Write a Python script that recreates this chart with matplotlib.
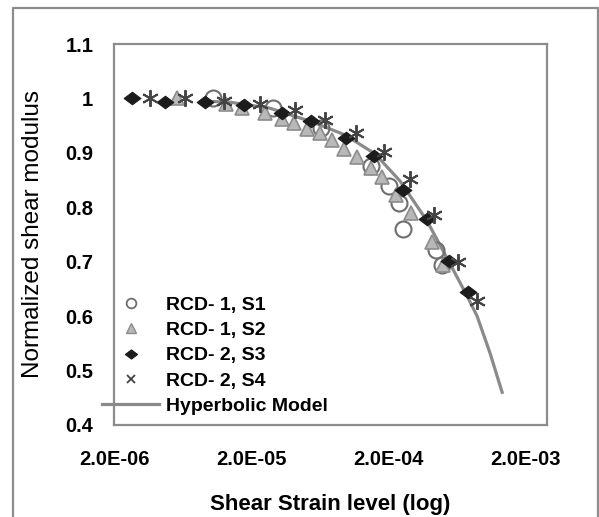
import matplotlib
matplotlib.use("Agg")
import matplotlib.pyplot as plt
from matplotlib.path import Path
from matplotlib.lines import Line2D

plt.rcParams['font.family'] = ['Liberation Sans', 'DejaVu Sans']

# ---- data ----
s1_x = [1.06e-5, 2.9e-5, 6.49e-5, 1.5e-4, 2.03e-4, 2.41e-4, 2.57e-4, 4.48e-4, 4.96e-4]
s1_y = [1.00, 0.982, 0.946, 0.876, 0.839, 0.808, 0.760, 0.721, 0.694]

s2_x = [5.77e-6, 1.31e-5, 1.72e-5, 2.53e-5, 3.37e-5, 4.12e-5, 5.13e-5, 6.38e-5, 7.8e-5,
        9.5e-5, 1.19e-4, 1.5e-4, 1.81e-4, 2.29e-4, 2.94e-4, 4.19e-4, 5.04e-4]
s2_y = [1.00, 0.99, 0.982, 0.973, 0.962, 0.955, 0.944, 0.936, 0.924,
        0.907, 0.892, 0.872, 0.855, 0.822, 0.789, 0.736, 0.694]

s3_x = [2.7e-6, 4.7e-6, 9.2e-6, 1.78e-5, 3.37e-5, 5.48e-5, 9.9e-5, 1.58e-4, 2.57e-4,
        3.85e-4, 5.57e-4, 7.67e-4]
s3_y = [1.00, 0.993, 0.993, 0.988, 0.973, 0.958, 0.927, 0.894, 0.832,
        0.778, 0.701, 0.644]

s4_x = [3.66e-6, 6.6e-6, 1.27e-5, 2.33e-5, 4.19e-5, 6.93e-5, 1.17e-4, 1.87e-4, 2.9e-4,
        4.33e-4, 6.49e-4, 8.93e-4]
s4_y = [1.00, 1.00, 0.995, 0.99, 0.979, 0.960, 0.936, 0.901, 0.852,
        0.786, 0.699, 0.628]

model_x = [9.2e-6, 1.41e-5, 2.75e-5, 5.57e-5, 9.7e-5, 1.61e-4, 2.45e-4, 3.85e-4,
           5.48e-4, 7.55e-4, 8.93e-4, 1.11e-3, 1.36e-3]
model_y = [0.995, 0.993, 0.982, 0.957, 0.933, 0.898, 0.848, 0.775,
           0.703, 0.637, 0.600, 0.532, 0.460]

labels = ['RCD- 1, S1', 'RCD- 1, S2', 'RCD- 2, S3', 'RCD- 2, S4', 'Hyperbolic Model']
x_ticks = [2e-6, 2e-5, 2e-4, 2e-3]
x_ticklabels = ['2.0E-06', '2.0E-05', '2.0E-04', '2.0E-03']
y_ticks = [0.4, 0.5, 0.6, 0.7, 0.8, 0.9, 1.0, 1.1]
y_ticklabels = ['0.4', '0.5', '0.6', '0.7', '0.8', '0.9', '1', '1.1']

W, H = 599, 517
fig = plt.figure(figsize=(W / 100, H / 100), dpi=100)
ax = fig.add_axes([114 / W, 1 - 425 / H, (547 - 114) / W, (425 - 44) / H])

diamond = Path([(-1, 0), (0, 0.75), (1, 0), (0, -0.75), (-1, 0)],
               [Path.MOVETO, Path.LINETO, Path.LINETO, Path.LINETO, Path.CLOSEPOLY])

ax.plot(model_x, model_y, color='#8a8a8a', lw=2.3, zorder=2, label=labels[4])
ax.plot(s1_x, s1_y, ls='none', marker='o', ms=11.5, mfc='none', mec='#6e6e6e', mew=1.5,
        zorder=3, label=labels[0])
ax.plot(s2_x, s2_y, ls='none', marker='^', ms=10, mfc='#b8b8b8', mec='#8c8c8c', mew=1.2,
        zorder=3, label=labels[1])
ax.plot(s3_x, s3_y, ls='none', marker=diamond, ms=12, mfc='#1c1c1c', mec='#1c1c1c', mew=0.8,
        zorder=4, label=labels[2])
ax.plot(s4_x, s4_y, ls='none', marker=(6, 2, 0), ms=12, mec='#444444', mew=1.4,
        zorder=5, label=labels[3])

ax.set_xscale('log')
ax.set_xlim(2e-6, 2.89e-3)
ax.set_ylim(0.4, 1.1)
ax.set_xticks(x_ticks)
ax.set_xticklabels(x_ticklabels)
ax.xaxis.set_minor_locator(matplotlib.ticker.NullLocator())
ax.set_yticks(y_ticks)
ax.set_yticklabels(y_ticklabels)
ax.tick_params(axis='both', length=0, labelsize=14.5, pad=0)
ax.tick_params(axis='x', pad=18)
ax.tick_params(axis='y', pad=15)
for t in ax.get_xticklabels() + ax.get_yticklabels():
    t.set_fontweight('bold')
for sp in ax.spines.values():
    sp.set_color('#8c8c8c')
    sp.set_linewidth(1.6)

ax.set_xlabel('Shear Strain level (log)', fontsize=16, fontweight='bold', labelpad=18)
ax.set_ylabel('Normalized shear modulus', fontsize=17.5, labelpad=15)

handles = [
    Line2D([], [], ls='none', marker='o', ms=7, mfc='none', mec='#6e6e6e', mew=1.3),
    Line2D([], [], ls='none', marker='^', ms=7, mfc='#b8b8b8', mec='#8c8c8c', mew=1.0),
    Line2D([], [], ls='none', marker=diamond, ms=8.5, mfc='#1c1c1c', mec='#1c1c1c'),
    Line2D([], [], ls='none', marker='x', ms=6, mec='#444444', mew=1.3),
    Line2D([], [], color='#8a8a8a', lw=2.3),
]
leg = fig.legend(handles, labels, loc='upper left',
                 bbox_to_anchor=(102 / W, 1 - 296 / H), frameon=False,
                 prop={'family': 'Liberation Sans', 'weight': 'bold', 'size': 14},
                 handlelength=2.95, handletextpad=0.36, labelspacing=0.40,
                 borderpad=0, borderaxespad=0)

# outer chart border (left, top, right)
fig.add_artist(Line2D([13 / W, 13 / W, 598 / W, 598 / W],
                      [0, 1 - 8 / H, 1 - 8 / H, 0],
                      transform=fig.transFigure, color='#8c8c8c', lw=1.6))

fig.savefig('out.png', dpi=100)
